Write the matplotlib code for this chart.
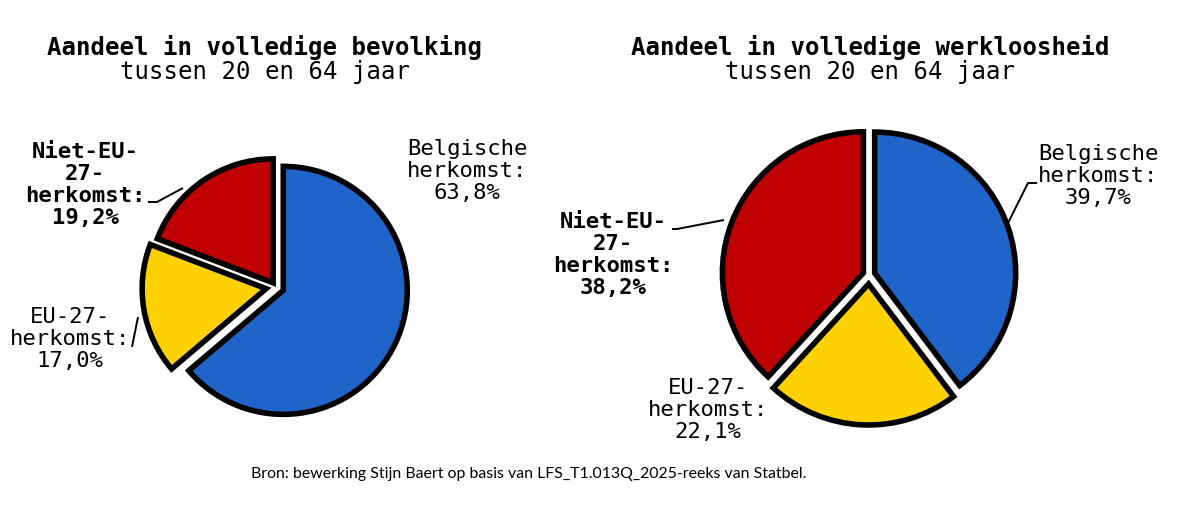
import matplotlib
matplotlib.use("Agg")
import matplotlib.pyplot as plt

# ----------------------------------------------------------------------
# Data
# ----------------------------------------------------------------------
categories = ["Belgische\nherkomst", "EU-27-\nherkomst", "Niet-EU-\n27-\nherkomst"]
bevolking = [63.8, 17.0, 19.2]
werkloosheid = [39.7, 22.1, 38.2]
colors = ["#1F64C8", "#FFD100", "#C00000"]
bold_label = [False, False, True]

titles = ["Aandeel in volledige bevolking", "Aandeel in volledige werkloosheid"]
subtitle = "tussen 20 en 64 jaar"
source = "Bron: bewerking Stijn Baert op basis van LFS_T1.013Q_2025-reeks van Statbel."

# ----------------------------------------------------------------------
# Layout (pixel coordinates, y measured from the top)
# ----------------------------------------------------------------------
W, H = 1183, 511
MONO = "DejaVu Sans Mono"


def fy(y):
    return H - y


fig = plt.figure(figsize=(W / 100, H / 100), dpi=100)
ax = fig.add_axes([0, 0, 1, 1])

# explode is given in pixels here (pie adds it to the centre unscaled)
pies = [
    dict(values=bevolking, title=titles[0], center=(276, 287), radius=124,
         explode=[8, 10, 5], title_x=265,
         label_pos=[(467, 171), (70, 339), (85, 185)],
         leaders=[None,
                  [(132, 347), (138, 317)],
                  [(148, 202), (157, 202), (183, 188)]]),
    dict(values=werkloosheid, title=titles[1], center=(869, 275), radius=141,
         explode=[6, 9, 6], title_x=870,
         label_pos=[(1098, 176), (708, 410), (613, 255)],
         leaders=[[(1037, 183), (1028, 183), (1008, 223)],
                  None,
                  [(672, 229), (677, 229), (724, 220)]]),
]

for p in pies:
    cx, cy = p["center"]
    ax.pie(p["values"], colors=colors, startangle=90, counterclock=False,
           explode=p["explode"], radius=p["radius"], center=(cx, fy(cy)),
           wedgeprops=dict(edgecolor="black", linewidth=4.0, joinstyle="miter"))

    ax.text(p["title_x"], fy(47), p["title"], family=MONO, fontsize=17.3,
            fontweight="bold", ha="center", va="center")
    ax.text(p["title_x"], fy(72), subtitle, family=MONO, fontsize=17.3,
            ha="center", va="center")

    for cat, val, (lx, ly), bold, lead in zip(categories, p["values"], p["label_pos"],
                                              bold_label, p["leaders"]):
        txt = f"{cat}:\n{val:.1f}%".replace(".", ",")
        ax.text(lx, fy(ly), txt, family=MONO, fontsize=16,
                fontweight="bold" if bold else "normal",
                ha="center", va="center", linespacing=1.12)
        if lead:
            ax.plot([x for x, _ in lead], [fy(y) for _, y in lead],
                    color="black", lw=1.4, solid_capstyle="butt")

ax.text(529, fy(474), source, family=["Lato", "DejaVu Sans"], fontsize=11.4,
        ha="center", va="center")

ax.set_xlim(0, W)
ax.set_ylim(0, H)
ax.set_aspect("equal")
ax.axis("off")

fig.savefig("out.png", dpi=100, facecolor="white")
